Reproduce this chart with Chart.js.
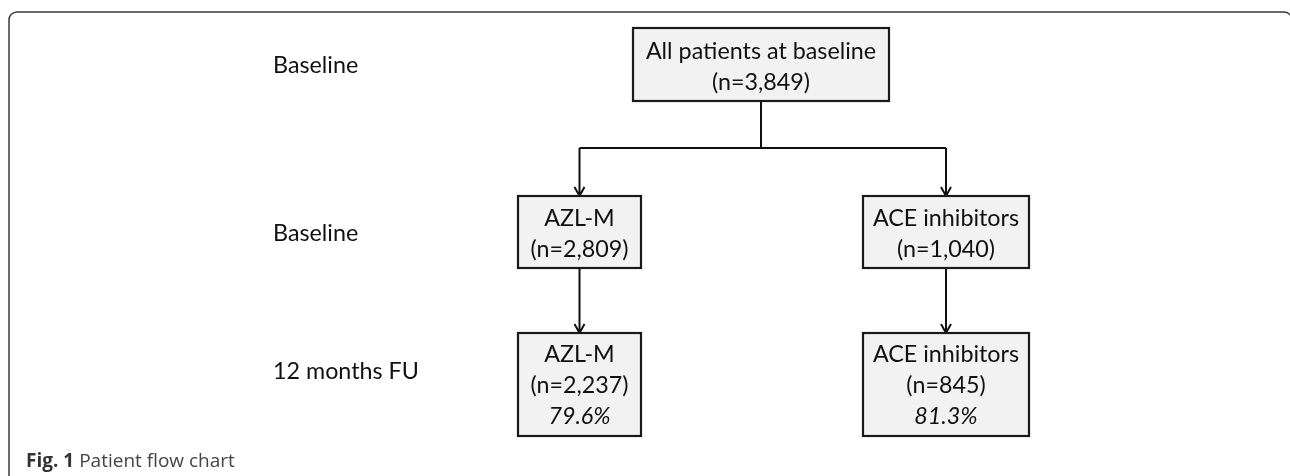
<!DOCTYPE html>
<html>
<head>
<meta charset="utf-8">
<script src="https://cdn.jsdelivr.net/npm/chart.js@4"></script>
<style>
  html, body { margin: 0; padding: 0; background: #fff; }
  #wrap { width: 1290px; height: 476px; position: relative; }
</style>
</head>
<body>
<div id="wrap"><canvas id="flowChart"></canvas></div>
<script>
// Patient flow data
const stageLabels = ['Baseline', 'Baseline', '12 months FU'];
const topLabel = 'All patients at baseline';
const totalPatients = 3849;
const groups = ['AZL-M', 'ACE inhibitors'];
const baselineN = [2809, 1040];
const followUpN = [2237, 845];
const followUpPct = [79.6, 81.3];
const captionBold = 'Fig. 1';
const captionText = 'Patient flow chart';

// Layout, in pixel units of the hidden axes
const layout = {
    stemX: 761,
    colX: [579.5, 946],
    colW: [123, 166],
    topW: 256,
    rowTop: [28, 196, 333],
    rowBottom: [101, 268, 436],
    junctionY: 148,
    labelX: 273,
    labelY: [65, 233, 371],
    lineGap: 31
};

const fmt = n => n.toLocaleString('en-US');

// one point per box, boxes drawn by the plugin below
const nodes = [{ x: layout.stemX, row: 0, w: layout.topW, lines: [topLabel, '(n=' + fmt(totalPatients) + ')'] }];
groups.forEach((g, i) => {
    nodes.push({ x: layout.colX[i], row: 1, w: layout.colW[i], lines: [g, '(n=' + fmt(baselineN[i]) + ')'] });
    nodes.push({ x: layout.colX[i], row: 2, w: layout.colW[i], lines: [g, '(n=' + fmt(followUpN[i]) + ')', followUpPct[i].toFixed(1) + '%'], italicLast: true });
});
nodes.forEach(n => { n.y = (layout.rowTop[n.row] + layout.rowBottom[n.row]) / 2; });

const FONT = 'Lato, "Open Sans", sans-serif';
const CAP_FONT = '"Open Sans", "Noto Sans", sans-serif';

const flowPlugin = {
    id: 'flow',
    afterDatasetsDraw(chart) {
        const ctx = chart.ctx;
        const xs = chart.scales.x, ys = chart.scales.y;
        const px = v => xs.getPixelForValue(v);
        const py = v => ys.getPixelForValue(v);

        // fit body font to the width of the top box text
        ctx.font = '100px ' + FONT;
        const size = Math.round(100 * 230 / ctx.measureText(topLabel).width * 10) / 10;

        ctx.save();
        // outer panel frame (right edge runs just off the page)
        const r = 8, L = px(9), T = py(12), R = px(1292), B = py(476) + 10;
        ctx.strokeStyle = '#3a3a3a';
        ctx.lineWidth = 1.5;
        ctx.beginPath();
        ctx.moveTo(L, B);
        ctx.lineTo(L, T + r);
        ctx.arcTo(L, T, L + r, T, r);
        ctx.lineTo(R - r, T);
        ctx.arcTo(R, T, R, T + r, r);
        ctx.lineTo(R, B);
        ctx.stroke();

        // connectors
        ctx.strokeStyle = '#111';
        ctx.lineWidth = 2;
        const arrow = (x, y1, y2) => {
            ctx.beginPath();
            ctx.moveTo(px(x), py(y1));
            ctx.lineTo(px(x), py(y2));
            ctx.moveTo(px(x) - 5, py(y2) - 9);
            ctx.lineTo(px(x), py(y2));
            ctx.lineTo(px(x) + 5, py(y2) - 9);
            ctx.stroke();
        };
        ctx.beginPath();
        ctx.moveTo(px(layout.stemX), py(layout.rowBottom[0]));
        ctx.lineTo(px(layout.stemX), py(layout.junctionY));
        ctx.moveTo(px(layout.colX[0]), py(layout.junctionY));
        ctx.lineTo(px(layout.colX[1]), py(layout.junctionY));
        ctx.stroke();
        layout.colX.forEach(cx => {
            arrow(cx, layout.junctionY, layout.rowTop[1]);
            arrow(cx, layout.rowBottom[1], layout.rowTop[2]);
        });

        // boxes
        const meta = chart.getDatasetMeta(0);
        meta.data.forEach((pt, i) => {
            const n = nodes[i];
            const top = py(layout.rowTop[n.row]), bot = py(layout.rowBottom[n.row]);
            const left = pt.x - n.w / 2;
            ctx.fillStyle = '#f2f2f2';
            ctx.fillRect(left, top, n.w, bot - top);
            ctx.lineWidth = 2.2;
            ctx.strokeStyle = '#1a1a1a';
            ctx.strokeRect(left, top, n.w, bot - top);
            ctx.fillStyle = '#111';
            ctx.textAlign = 'center';
            ctx.textBaseline = 'middle';
            const start = pt.y + 2 - (n.lines.length - 1) * layout.lineGap / 2;
            n.lines.forEach((t, k) => {
                const it = n.italicLast && k === n.lines.length - 1;
                ctx.font = (it ? 'italic ' : '') + size + 'px ' + FONT;
                ctx.fillText(t, pt.x, start + k * layout.lineGap - (n.row === 2 ? 1 : 0));
            });
        });

        // stage labels on the left
        ctx.textAlign = 'left';
        ctx.font = size + 'px ' + FONT;
        stageLabels.forEach((s, i) => ctx.fillText(s, px(layout.labelX), py(layout.labelY[i])));

        // caption
        ctx.font = 'bold 100px ' + CAP_FONT;
        const wb = ctx.measureText(captionBold + ' ').width;
        ctx.font = '100px ' + CAP_FONT;
        const wn = ctx.measureText(captionText).width;
        const cs = 100 * 209 / (wb + wn);
        ctx.fillStyle = '#333';
        ctx.font = 'bold ' + cs + 'px ' + CAP_FONT;
        ctx.fillText(captionBold + ' ', px(26), py(462));
        ctx.fillStyle = '#444';
        ctx.font = cs + 'px ' + CAP_FONT;
        ctx.fillText(captionText, px(26) + wb * cs / 100, py(462));
        ctx.restore();
    }
};

new Chart(document.getElementById('flowChart'), {
    type: 'scatter',
    data: {
        datasets: [{
            label: 'Patients',
            data: nodes.map(n => ({ x: n.x, y: n.y })),
            pointRadius: 0,
            showLine: false
        }]
    },
    options: {
        responsive: true,
        maintainAspectRatio: false,
        animation: false,
        layout: { padding: 0 },
        scales: {
            x: { type: 'linear', min: 0, max: 1290, display: false },
            y: { type: 'linear', min: 0, max: 476, reverse: true, display: false }
        },
        plugins: {
            legend: { display: false },
            tooltip: { enabled: false }
        }
    },
    plugins: [flowPlugin]
});
</script>
</body>
</html>
